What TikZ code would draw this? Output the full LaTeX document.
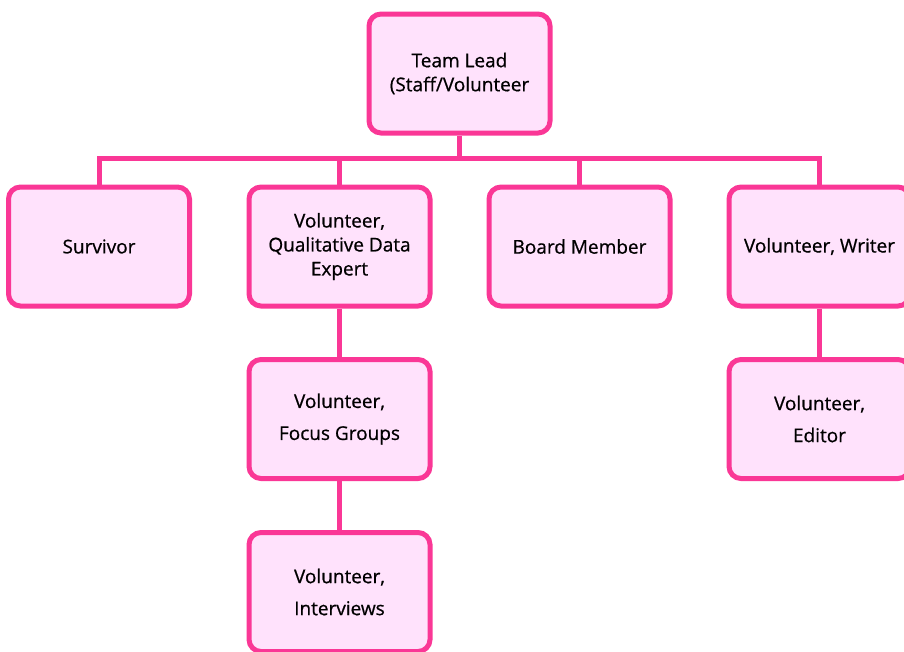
\documentclass[tikz,border=0pt]{standalone}
\usepackage{fontspec}
\setmainfont{Open Sans}[FakeBold=0.7]
\definecolor{pinkline}{RGB}{250,55,150}
\definecolor{pinkfill}{RGB}{255,226,252}
\begin{document}
\begin{tikzpicture}[x=1pt,y=-1pt,
  box/.style={draw=pinkline, fill=pinkfill, line width=5pt, rounded corners=12pt,
    minimum width=181pt, minimum height=119pt, align=center, inner sep=0pt,
    font=\fontsize{19}{24}\selectfont},
  wide/.style={font=\fontsize{19}{32}\selectfont},
  conn/.style={draw=pinkline, line width=5pt}]
\useasboundingbox (0,0) rectangle (904,651);
\clip (0,0) rectangle (904,651);
\node[box] (lead) at (459.5,73.5) {Team Lead\\(Staff/Volunteer};
\coordinate (bus) at (459.5,158);
\node[box] (surv) at (99,246.5) {Survivor};
\node[box] (qde) at (339.5,246.5) {Volunteer,\\Qualitative Data\\Expert};
\node[box] (board) at (579.5,246.5) {Board Member};
\node[box] (writer) at (819.5,246.5) {Volunteer, Writer};
\node[box,wide] (focus) at (339.5,419) {Volunteer,\\Focus Groups};
\node[box,wide] (editor) at (819.5,419) {Volunteer,\\Editor};
\node[box,wide] (inter) at (339.5,592) {Volunteer,\\Interviews};
\draw[conn] (lead.south) -- (bus);
\draw[conn] (surv.north) |- (bus) -| (writer.north);
\draw[conn] (qde.north) -- (qde.north |- bus);
\draw[conn] (board.north) -- (board.north |- bus);
\draw[conn] (qde.south) -- (focus.north);
\draw[conn] (focus.south) -- (inter.north);
\draw[conn] (writer.south) -- (editor.north);
\end{tikzpicture}
\end{document}
